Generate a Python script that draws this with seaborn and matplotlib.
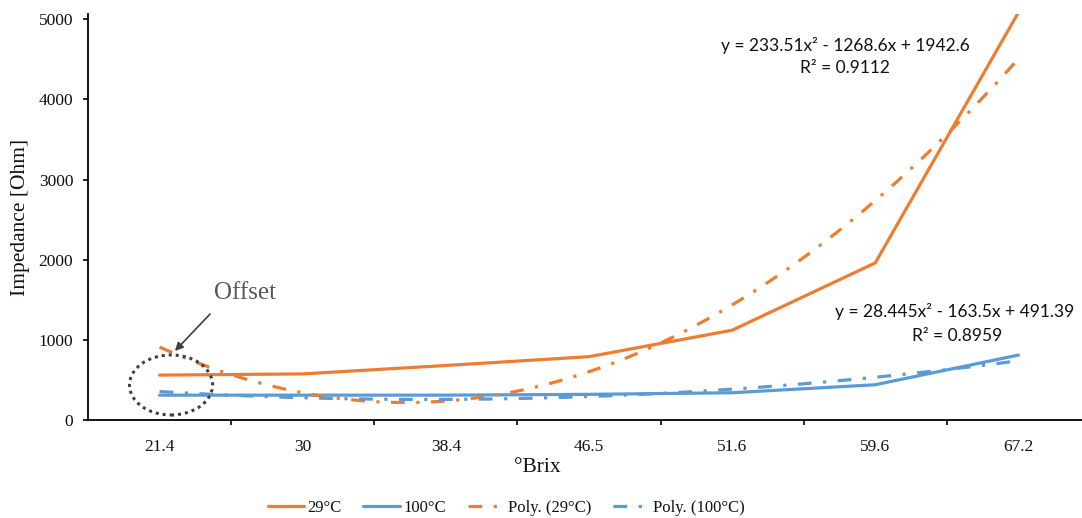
import numpy as np
import pandas as pd
import matplotlib
matplotlib.use("Agg")
import matplotlib.pyplot as plt
import seaborn as sns
from matplotlib.lines import Line2D
from matplotlib.patches import Ellipse

# ---------------- data ----------------
brix = ["21.4", "30", "38.4", "46.5", "51.6", "59.6", "67.2"]
imp_29 = [560, 575, 680, 790, 1120, 1960, 5084]
imp_100 = [310, 310, 310, 320, 340, 440, 810]
series_names = ["29°C", "100°C"]
trend_names = ["Poly. (29°C)", "Poly. (100°C)"]
eq_29 = ["y = 233.51x² - 1268.6x + 1942.6", "R² = 0.9112"]
eq_100 = ["y = 28.445x² - 163.5x + 491.39", "R² = 0.8959"]
yticks = [0, 1000, 2000, 3000, 4000, 5000]

ORANGE = "#ED7D31"
BLUE = "#5B9BD5"
TXT = "#111111"
SERIF = "Liberation Serif"
SANS = "Lato"
LW = 2.3
DASHDOT = (0, (4.3, 3.6, 1.0, 3.6))

sns.set_theme(style="white")
plt.rcParams["font.family"] = [SERIF, "DejaVu Sans"]

W, H = 1082, 518
fig = plt.figure(figsize=(W / 100, H / 100), dpi=100)
x0, x1, y0, y1 = 88, 1090, 420, 14
ax = fig.add_axes([x0 / W, (H - y0) / H, (x1 - x0) / W, (y0 - y1) / H])

pos = np.arange(len(brix))
df = pd.DataFrame({
    "pos": np.tile(pos, 2),
    "Impedance": imp_29 + imp_100,
    "series": np.repeat(series_names, len(brix)),
})
sns.lineplot(data=df, x="pos", y="Impedance", hue="series",
             palette={series_names[0]: ORANGE, series_names[1]: BLUE},
             linewidth=LW, legend=False, ax=ax, sort=False)

sns.regplot(x=pos, y=np.array(imp_29, float), order=2, ci=None, scatter=False,
            ax=ax, color=ORANGE, line_kws=dict(lw=LW, ls=DASHDOT))
sns.regplot(x=pos, y=np.array(imp_100, float), order=2, ci=None, scatter=False,
            ax=ax, color=BLUE, line_kws=dict(lw=LW, ls=DASHDOT))

ax.set_xlim(-0.5, len(brix) - 0.5)
ax.set_ylim(0, 5065)
ax.set_yticks(yticks)
ax.set_yticklabels([str(v) for v in yticks], fontsize=12.5, color=TXT, family=SERIF)

# boundary ticks (major, no labels) and category labels (minor, no tick marks)
ax.set_xticks(np.arange(0.5, len(brix) - 0.5, 1.0))
ax.set_xticklabels([])
ax.set_xticks(pos, minor=True)
ax.set_xticklabels(brix, minor=True, fontsize=12.5, color=TXT, family=SERIF)
ax.tick_params(axis="x", which="major", direction="out", length=3.6, width=1.2,
               color="black", bottom=True)
ax.tick_params(axis="x", which="minor", length=0, pad=14, bottom=True)
ax.tick_params(axis="y", direction="out", length=3.6, width=1.2, color="black",
               pad=7, left=True)

for s in ["top", "right"]:
    ax.spines[s].set_visible(False)
for s in ["left", "bottom"]:
    ax.spines[s].set_color("black")
    ax.spines[s].set_linewidth(1.3)
ax.grid(False)
ax.set_facecolor("white")

ax.set_xlabel("°Brix", fontsize=15.5, color=TXT, family=SERIF)
ax.xaxis.set_label_coords((537 - x0) / (x1 - x0), -(467 - y0) / (y0 - y1))
ax.xaxis.label.set_va("center")
ax.set_ylabel("Impedance [Ohm]", fontsize=15.5, color=TXT, family=SERIF)
ax.yaxis.set_label_coords((20 - x0) / (x1 - x0), 0.5)
ax.yaxis.label.set_va("center")

# trendline equations
EQS = 12.5
fig.text(845 / W, 1 - 45 / H, eq_29[0], ha="center", va="center", fontsize=EQS, color=TXT, family=SANS)
fig.text(845 / W, 1 - 68 / H, eq_29[1], ha="center", va="center", fontsize=EQS, color=TXT, family=SANS)
fig.text(955 / W, 1 - 312 / H, eq_100[0], ha="center", va="center", fontsize=EQS, color=TXT, family=SANS)
fig.text(957 / W, 1 - 336 / H, eq_100[1], ha="center", va="center", fontsize=EQS, color=TXT, family=SANS)

# offset annotation
ell = Ellipse((0.08, 437), width=0.58, height=750, fill=False, edgecolor="#404040",
              lw=2.2, ls=(0, (1, 1.3)), clip_on=False, zorder=5)
ax.add_patch(ell)
fig.text(245 / W, 1 - 293 / H, "Offset", ha="center", va="center", fontsize=18,
         color="#595959", family=SERIF)
ax.annotate("", xy=(173, H - 353), xytext=(212, H - 312), xycoords="figure pixels",
            textcoords="figure pixels",
            arrowprops=dict(arrowstyle="-|>", color="#404040", lw=1.2, mutation_scale=12))

# legend
handles = [
    Line2D([], [], color=ORANGE, lw=LW),
    Line2D([], [], color=BLUE, lw=LW),
    Line2D([], [], color=ORANGE, lw=LW, ls=DASHDOT),
    Line2D([], [], color=BLUE, lw=LW, ls=DASHDOT),
]
fig.legend(handles, series_names + trend_names, loc="center",
           bbox_to_anchor=(506 / W, 1 - 508 / H), ncol=4, frameon=False,
           prop=dict(family=SERIF, size=12), handlelength=2.2, handletextpad=0.2,
           columnspacing=1.3, labelcolor=TXT)

fig.savefig("out.png", dpi=100, facecolor="white")
